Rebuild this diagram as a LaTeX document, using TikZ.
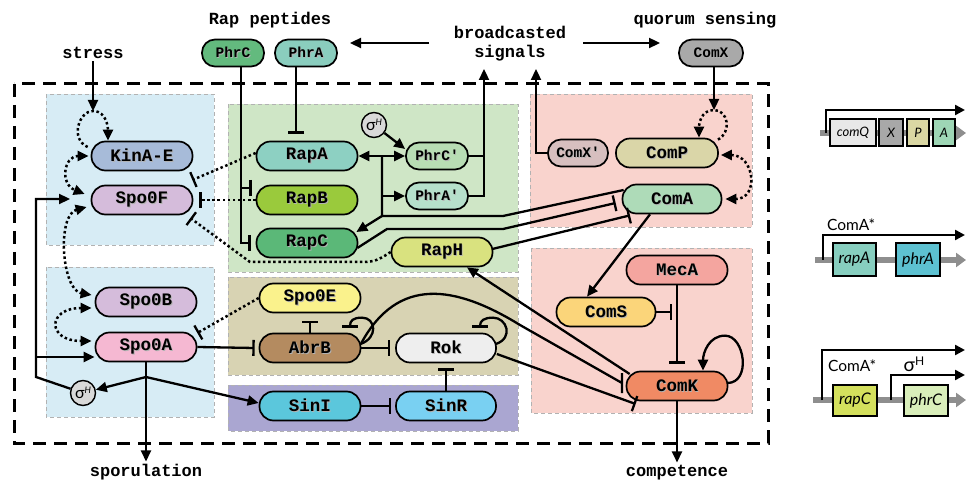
\documentclass[tikz,border=0pt]{standalone}
\usepackage{fontspec}
\usetikzlibrary{arrows.meta}
\newfontfamily\monofam{Liberation Mono}
\newfontfamily\genefam{Lato}

% module backgrounds
\definecolor{zblue}{HTML}{D7ECF5}
\definecolor{zgreen}{HTML}{CFE6C6}
\definecolor{ztan}{HTML}{D8D3B3}
\definecolor{zpurple}{HTML}{AAA6D1}
\definecolor{zpink}{HTML}{F9D3CD}
% protein fills
\definecolor{kinc}{HTML}{A7BBD9}
\definecolor{spofc}{HTML}{D5BCDB}
\definecolor{spoac}{HTML}{F5B8D2}
\definecolor{phrCtc}{HTML}{63BA7E}
\definecolor{phrAtc}{HTML}{8ACDBE}
\definecolor{rapAc}{HTML}{8DD0C2}
\definecolor{rapBc}{HTML}{9ACA3C}
\definecolor{rapCc}{HTML}{5BB878}
\definecolor{phrCpc}{HTML}{B8DDB4}
\definecolor{phrApc}{HTML}{B6E0CB}
\definecolor{rapHc}{HTML}{D9E27F}
\definecolor{comXpc}{HTML}{D7BFBF}
\definecolor{comPc}{HTML}{DAD6A8}
\definecolor{comAc}{HTML}{AEDBB8}
\definecolor{comXc}{HTML}{A9A9A9}
\definecolor{mecAc}{HTML}{F4A59F}
\definecolor{comSc}{HTML}{FBD57A}
\definecolor{comKc}{HTML}{F08A64}
\definecolor{spoEc}{HTML}{FAF28C}
\definecolor{abrBc}{HTML}{B48B60}
\definecolor{rokc}{HTML}{EEEEEE}
\definecolor{sinIc}{HTML}{5BC7DC}
\definecolor{sinRc}{HTML}{79D0F2}
\definecolor{sigc}{HTML}{D9D9D9}
% gene boxes
\definecolor{gQc}{HTML}{E8E8E8}
\definecolor{gXc}{HTML}{A8A8A8}
\definecolor{gPc}{HTML}{DAD7A3}
\definecolor{gAc}{HTML}{9ED6B5}
\definecolor{grapAc}{HTML}{87CEBF}
\definecolor{gphrAc}{HTML}{5DC1D1}
\definecolor{grapCc}{HTML}{D4E05D}
\definecolor{gphrCc}{HTML}{D9EEBA}
\definecolor{bbc}{HTML}{8E8E8E}

% label with a soft drop shadow
\newcommand\shd[1]{\leavevmode\rlap{\kern0.9pt\raisebox{-0.9pt}{\textcolor{black!30}{#1}}}#1}
\newcommand\sigH{{\genefam\fontsize{16}{16}\selectfont σ\raisebox{4.5pt}{\fontsize{9}{9}\selectfont\itshape H}}}

\begin{document}
\begin{tikzpicture}[x=1pt,y=-1pt,
  pill/.style={draw=black, line width=1.7pt, rounded corners=14pt, minimum height=29pt,
    minimum width=101pt, inner sep=0pt, font=\monofam\bfseries\fontsize{17.5}{17.5}\selectfont},
  spill/.style={pill, rounded corners=13pt, minimum width=62pt, minimum height=27pt,
    font=\monofam\bfseries\fontsize{14.5}{15}\selectfont},
  sig/.style={circle, draw=black, line width=1.4pt, fill=sigc, minimum size=25pt, inner sep=0pt},
  zone/.style={draw=black!30, line width=0.7pt, dash pattern=on 4pt off 3pt},
  lbl/.style={font=\monofam\bfseries\fontsize{17}{19}\selectfont, inner sep=2pt},
  wire/.style={line width=2.3pt},
  act/.style={wire, -{Triangle[length=11pt,width=10pt]}},
  inh/.style={wire, -{Bar[width=16pt,line width=2.3pt]}},
  dots/.style={line width=2.5pt, dash pattern=on 2.5pt off 2.6pt},
  dact/.style={dots, -{Triangle[length=11pt,width=10pt]}},
  dact2/.style={dots, {Triangle[length=11pt,width=10pt]}-{Triangle[length=11pt,width=10pt]}},
  dinh/.style={dots, -{Bar[width=16pt,line width=2.3pt]}},
  backbone/.style={line width=6pt, draw=bbc, -{Triangle[length=10pt,width=14pt]}},
  prom/.style={line width=2.4pt, -{Triangle[length=10pt,width=10pt]}},
  gene/.style={draw=black, line width=1.5pt, inner sep=0pt, font=\genefam\itshape\fontsize{16}{16}\selectfont},
  sgene/.style={gene, minimum height=27pt, font=\genefam\itshape\fontsize{13}{13}\selectfont},
  glbl/.style={font=\genefam\fontsize{15.5}{16}\selectfont, inner sep=0pt}
]
\useasboundingbox (0,0) rectangle (967,481);

% regulatory modules
\filldraw[zone, fill=zblue]   (46,94)   rectangle (214,245);
\filldraw[zone, fill=zblue]   (46,267)  rectangle (214,417);
\filldraw[zone, fill=zgreen]  (228,104) rectangle (518,272);
\filldraw[zone, fill=ztan]    (228,277) rectangle (518,375);
\filldraw[zone, fill=zpurple] (228,385) rectangle (518,431);
\filldraw[zone, fill=zpink]   (530,94)  rectangle (752,227);
\filldraw[zone, fill=zpink]   (531,248) rectangle (752,413);

% cell boundary
\draw[line width=3pt, dash pattern=on 13pt off 8pt] (14,84) rectangle (768,443);

% outer labels
\node[lbl, anchor=base] (stress) at (93,59) {stress};
\node[lbl, anchor=base] (rappep) at (270,25) {Rap peptides};
\node[lbl, align=center] (bcast) at (510,43.5) {broadcasted\\signals};
\node[lbl, anchor=base] (quorum) at (705,25) {quorum sensing};
\node[lbl, anchor=base] (sporu) at (146,476) {sporulation};
\node[lbl, anchor=base] (compet) at (677,476) {competence};

% proteins
\node[pill, fill=kinc]   (kin)  at (142,156) {\shd{KinA-E}};
\node[pill, fill=spofc]  (spof) at (142,200) {\shd{Spo0F}};
\node[pill, fill=spofc]  (spob) at (146,302) {\shd{Spo0B}};
\node[pill, fill=spoac]  (spoa) at (146,347) {\shd{Spo0A}};
\node[sig] (sigA) at (83,393) {\sigH};
\node[spill, fill=phrCtc] (phrCt) at (233,53) {\shd{PhrC}};
\node[spill, fill=phrAtc] (phrAt) at (306,53) {\shd{PhrA}};
\node[pill, fill=rapAc]  (rapA) at (307,156) {\shd{RapA}};
\node[pill, fill=rapBc]  (rapB) at (307,200) {\shd{RapB}};
\node[pill, fill=rapCc]  (rapC) at (307,243) {\shd{RapC}};
\node[sig] (sigB) at (374,125) {\sigH};
\node[spill, fill=phrCpc] (phrCp) at (437,156) {\shd{PhrC'}};
\node[spill, fill=phrApc] (phrAp) at (437,196) {\shd{PhrA'}};
\node[pill, fill=rapHc]  (rapH) at (442,252) {\shd{RapH}};
\node[spill, fill=comXpc, minimum width=60pt] (comXp) at (578,153) {\shd{ComX'}};
\node[pill, fill=comPc, minimum width=102pt] (comP) at (667,153) {\shd{ComP}};
\node[pill, fill=comAc, minimum width=99pt]  (comA) at (672,199) {\shd{ComA}};
\node[spill, fill=comXc, minimum width=64pt] (comX) at (711,53) {\shd{ComX}};
\node[pill, fill=mecAc]  (mecA) at (677,270) {\shd{MecA}};
\node[pill, fill=comSc, minimum width=99pt]  (comS) at (606,312) {\shd{ComS}};
\node[pill, fill=comKc]  (comK) at (677,386) {\shd{ComK}};
\node[pill, fill=spoEc]  (spoE) at (310,298) {\shd{Spo0E}};
\node[pill, fill=abrBc]  (abrB) at (310,348) {\shd{AbrB}};
\node[pill, fill=rokc, minimum width=100pt]  (rok)  at (446,348) {\shd{Rok}};
\node[pill, fill=sinIc]  (sinI) at (310,406) {\shd{SinI}};
\node[pill, fill=sinRc, minimum width=100pt] (sinR) at (446,406) {\shd{SinR}};

% bend points and free ends
\coordinate (kTop) at (93,111);
\coordinate (fbA) at (36,377);
\coordinate (fbB) at (36,199);
\coordinate (fbJ) at (36,357);
\coordinate (fbTip) at (70,199);
\coordinate (sJ) at (146,377);
\coordinate (abK) at (520,325);
\coordinate (kBar) at (622,383);
\coordinate (csEnd) at (672,312);
\coordinate (pTop) at (714,110);
\coordinate (cxCorner) at (536,153);
\coordinate (cxTip) at (536,69);
\coordinate (phJ1) at (484,156);
\coordinate (phJ2) at (484,196);
\coordinate (phTip) at (484,69);
\coordinate (jA) at (382,156);
\coordinate (jB) at (382,196);
\coordinate (jC) at (382,216);
\coordinate (jD) at (503,216);
\coordinate (rcA) at (387,229);
\coordinate (rcB) at (503,229);
\coordinate (pcA) at (241,188);
\coordinate (pcB) at (241,243);
\coordinate (rhA) at (362,262);
\coordinate (rhB) at (250,262);
\coordinate (bL1) at (429,43);
\coordinate (bL2) at (350,43);
\coordinate (bR1) at (583,43);
\coordinate (bR2) at (660,43);

% broadcast signals
\draw[act] (bL1) -- (bL2);
\draw[act] (bR1) -- (bR2);

% phosphorelay
\draw[act] (stress.south) -- (kTop);
\draw[dact] ([shift={(-3,-9)}]kin.west) .. controls +(-18,-8) and +(-14,0) .. (kTop)
  .. controls +(14,0) and +(0,-12) .. ([shift={(-34,0)}]kin.north);
\draw[dact2] ([shift={(-2,0)}]kin.west) .. controls +(-25,0) and +(-25,-10) .. ([shift={(-6,-6)}]spof.west);
\draw[dact2] ([shift={(-4,7)}]spof.west) .. controls +(-30,8) and +(-30,-5) .. ([shift={(-3,-7)}]spob.west);
\draw[dact2] ([shift={(-3,6)}]spob.west) .. controls +(-45,0) and +(-45,0) .. ([shift={(-3,-6)}]spoa.west);
\draw[act] (sigA) -- (fbA) -- (fbB) -- (fbTip);
\draw[act] (fbJ) -- (spoa.west |- fbJ);

% Spo0A outputs
\draw[act] (spoa.south) -- (sporu.north);
\draw[act] (sJ) -- (sigA);
\draw[act] (sJ) -- ([shift={(0,-3)}]sinI.west);
\draw[inh] (spoa.east) -- ([shift={(-4,0)}]abrB.west);
\draw[dinh] (spoE.west) -- ([shift={(0,-14)}]spoa.east);

% AbrB / Rok / Sin module
\draw[inh] (abrB.north) -- ([shift={(0,-12)}]abrB.north);
\draw[inh] ([shift={(-1,-4)}]abrB.east) .. controls +(18,-6) and +(14,0) .. ([shift={(52,-15)}]abrB.north)
  .. controls +(-9,0) and +(0,-7) .. ([shift={(40,-5)}]abrB.north);
\draw[inh] ([shift={(-1,-4)}]rok.east) .. controls +(18,-6) and +(14,0) .. ([shift={(47,-15)}]rok.north)
  .. controls +(-9,0) and +(0,-7) .. ([shift={(34,-5)}]rok.north);
\draw[wire] ([shift={(0,-5)}]abrB.east) .. controls (398,276) and (455,285) .. (abK) -- (kBar)
  ([shift={(0,-10)}]kBar) -- ([shift={(0,10)}]kBar);
\draw[inh] ([shift={(0,6)}]rok.east) -- ([shift={(10,18)}]comK.west);
\draw[act] ([shift={(4,-12)}]comK.west) -- ([shift={(25,0)}]rapH.south);
\draw[inh] (sinI.east) -- ([shift={(-4,0)}]sinR.west);
\draw[inh] (sinR.north) -- ([shift={(0,5)}]rok.south);
\draw[inh] (abrB.east) -- ([shift={(-5,0)}]rok.west);

% competence module
\draw[act] ([shift={(-22,0)}]comA.south) -- ([shift={(-19,0)}]comS.north);
\draw[inh] (comS.east) -- (csEnd);
\draw[inh] (mecA.south) -- ([shift={(0,-7)}]comK.north);
\draw[act] ([shift={(-1,-3)}]comK.east) .. controls +(24,0) and +(20,0) .. ([shift={(48,-35)}]comK.north)
  .. controls +(-16,0) and +(0,-18) .. ([shift={(26,0)}]comK.north);
\draw[act] (comK.south) -- (compet.north);

% quorum sensing
\draw[act] ([shift={(3,0)}]comX.south) -- (pTop);
\draw[dact] ([shift={(51,2)}]comP.north) .. controls +(14,-8) and +(14,0) .. (pTop)
  .. controls +(-14,0) and +(0,-12) .. ([shift={(32,0)}]comP.north);
\draw[dact2] ([shift={(2,2)}]comP.east) .. controls +(34,0) and +(34,0) .. ([shift={(3,0)}]comA.east);
\draw[act] (comXp.west) -- (cxCorner) -- (cxTip);

% Phr export
\draw[wire] (phrCp.east) -- (phJ1);
\draw[act] (phrAp.east) -- (phJ2) -- (phTip);
\draw[act] (sigB) -- ([shift={(0,-7)}]phrCp.west);

% ComA targets
\draw[wire] ([shift={(2,-9)}]comA.west) -- (jD) -- (jC) -- (jA);
\draw[act] (jA) -- (rapA.east);
\draw[act] (jA) -- (phrCp.west);
\draw[act] (jB) -- (phrAp.west);
\draw[act] (jC) -- ([shift={(-2,-11)}]rapC.east);
\draw[inh] ([shift={(-1,5)}]rapC.east) -- (rcA) -- (rcB) -- ([shift={(-6,4)}]comA.west);
\draw[inh] ([shift={(-1,-3)}]rapH.east) -- ([shift={(-42,1)}]comA.south);

% Phr peptides on Rap
\draw[inh] ([shift={(-10,0)}]phrAt.south) -- ([shift={(-11,-7)}]rapA.north);
\draw[inh] ([shift={(8,0)}]phrCt.south) -- (pcB) -- ([shift={(-5,0)}]rapC.west);
\draw[inh] (pcA) -- ([shift={(-4,-12)}]rapB.west);

% Rap phosphatases on Spo0F
\draw[dinh] ([shift={(0,-3)}]rapA.west) -- ([shift={(-1,-20)}]spof.east);
\draw[dinh] (rapB.west) -- ([shift={(6,0)}]spof.east);
\draw[dinh] (rapH.west) .. controls +(-12,8) and +(12,0) .. (rhA) -- (rhB) -- ([shift={(-3,18)}]spof.east);

% operon comQXPA
\draw[backbone] (820,133) -- (966,133);
\draw[prom] (826,133) -- (826,110) -- (965,110);
\node[sgene, fill=gQc, minimum width=46pt] (gQ) at (853,132.5) {comQ};
\node[sgene, fill=gXc, minimum width=24pt] (gX) at (891,132.5) {X};
\node[sgene, fill=gPc, minimum width=22pt] (gP) at (918,132.5) {P};
\node[sgene, fill=gAc, minimum width=22pt] (gA) at (944,132.5) {A};

% operon rapA-phrA
\draw[backbone] (815,260) -- (966,260);
\draw[prom] (823,260) -- (823,235) -- (965,235);
\node[gene, fill=grapAc, minimum width=43pt, minimum height=33pt] (grapA) at (854.5,259.5) {rapA};
\node[gene, fill=gphrAc, minimum width=44pt, minimum height=33pt] (gphrA) at (918,259.5) {phrA};
\node[glbl, anchor=base west] (lcomA1) at (827,231) {ComA*};

% operon rapC-phrC
\draw[backbone] (813,400) -- (966,400);
\draw[prom] (822,400) -- (822,350) -- (965,350);
\draw[prom] (891,400) -- (891,375) -- (965,375);
\node[gene, fill=grapCc, minimum width=44pt, minimum height=31pt] (grapC) at (855,400.5) {rapC};
\node[gene, fill=gphrCc, minimum width=44pt, minimum height=31pt] (gphrC) at (926,400.5) {phrC};
\node[glbl, anchor=base west] (lcomA2) at (828,371) {ComA*};
\node[glbl, anchor=base] (lsig) at (914,371) {{\fontsize{19}{19}\selectfont σ}\raisebox{6pt}{\fontsize{12}{12}\selectfont H}};
\end{tikzpicture}
\end{document}
